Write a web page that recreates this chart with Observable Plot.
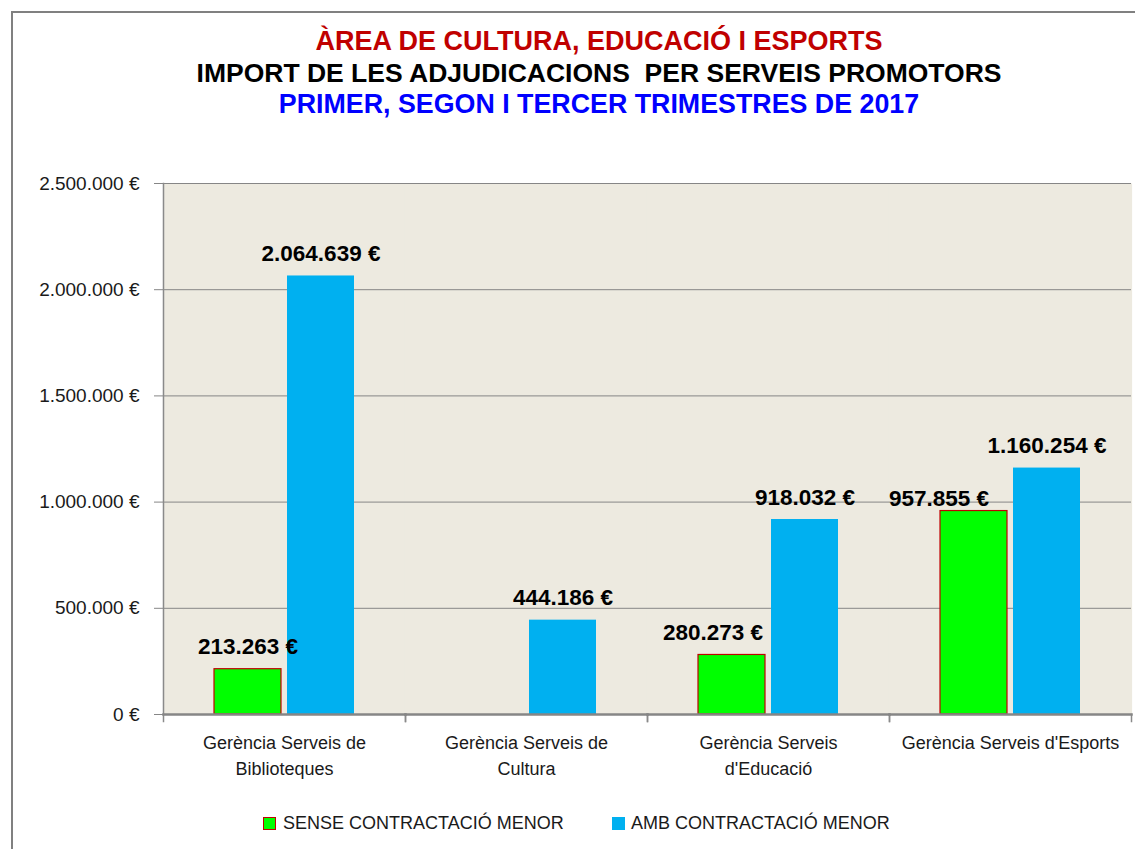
<!DOCTYPE html>
<html>
<head>
<meta charset="utf-8">
<script src="https://cdn.jsdelivr.net/npm/d3@7"></script>
<script src="https://cdn.jsdelivr.net/npm/@observablehq/plot@0.6"></script>
<style>
  body { margin:0; background:#fff; width:1135px; height:849px; overflow:hidden; position:relative; font-family:"Liberation Sans", Arial, sans-serif; }
  #border { position:absolute; left:11px; top:11px; width:1140px; height:860px; border-left:2px solid #808080; border-top:2px solid #808080; }
  .t { position:absolute; left:0; width:1198px; text-align:center; font-family:"Liberation Sans Narrow","Liberation Sans",sans-serif; font-weight:bold; font-size:27px; line-height:30px; white-space:nowrap; }
  #chart { position:absolute; left:0; top:150px; }
  #legend { position:absolute; top:811px; left:0; width:1135px; height:24px; font-size:18px; color:#1a1a1a; }
  .sw { position:absolute; top:6px; width:13px; height:13px; box-sizing:border-box; }
  .lt { position:absolute; top:0; line-height:24px; white-space:nowrap; }
</style>
</head>
<body>
<div id="border"></div>
<div class="t" style="top:26px;color:#C00000">ÀREA DE CULTURA, EDUCACIÓ I ESPORTS</div>
<div class="t" style="top:58px;color:#000;font-size:26.5px">IMPORT DE LES ADJUDICACIONS&nbsp; PER SERVEIS PROMOTORS</div>
<div class="t" style="top:89px;color:#0000FF;font-size:26.8px">PRIMER, SEGON I TERCER TRIMESTRES DE 2017</div>
<div id="chart"></div>
<div id="legend"></div>
<script>
const categories = ["Gerència Serveis de Biblioteques", "Gerència Serveis de Cultura", "Gerència Serveis d'Educació", "Gerència Serveis d'Esports"];
const categoryLabels = ["Gerència Serveis de\nBiblioteques", "Gerència Serveis de\nCultura", "Gerència Serveis\nd'Educació", "Gerència Serveis d'Esports"];
const series = ["SENSE CONTRACTACIÓ MENOR", "AMB CONTRACTACIÓ MENOR"];
const senseValues = [213263, null, 280273, 957855];
const ambValues = [2064639, 444186, 918032, 1160254];
const yTicks = [0, 500000, 1000000, 1500000, 2000000, 2500000];
const seriesColors = ["#00FF00", "#00B0F0"];

const data = [];
categories.forEach((c, i) => {
  data.push({cat: c, series: series[0], value: senseValues[i]});
  data.push({cat: c, series: series[1], value: ambValues[i]});
});
const shown = data.filter(d => d.value != null);
const fmt = v => d3.format(",")(v).replace(/,/g, ".") + " €";

const shiftedA = d => d.series === series[0] && d.cat === categories[2];
const shiftedB = d => d.series === series[0] && d.cat === categories[3];

const labelStyle = {fx: "cat", x: "series", y: "value", text: d => fmt(d.value), fontSize: 22.5, fontWeight: "bold", fill: "#000"};

const chart = Plot.plot({
  width: 1135,
  height: 650,
  marginTop: 33,
  marginBottom: 86,
  marginLeft: 163,
  marginRight: 4,
  style: {background: "transparent", fontFamily: "Liberation Sans, Arial, sans-serif"},
  fx: {domain: categories, padding: 0, label: null},
  x: {domain: series, paddingInner: 0.08, paddingOuter: 0.69, axis: null},
  y: {domain: [0, 2500000], label: null, axis: null},
  color: {domain: series, range: seriesColors},
  marks: [
    Plot.frame({fill: "#EDEAE0", stroke: null, insetLeft: -0.6, insetRight: -0.6}),
    Plot.gridY(yTicks, {stroke: "#868686", strokeOpacity: 1}),
    Plot.barY(shown.filter(d => d.series === series[0]), {fx: "cat", x: "series", y: "value", fill: "series", stroke: "#C00000", strokeWidth: 1.2}),
    Plot.barY(shown.filter(d => d.series === series[1]), {fx: "cat", x: "series", y: "value", fill: "series"}),
    Plot.frame({anchor: "left", facetAnchor: "left", stroke: "#8a8a8a", strokeWidth: 1.5}),
    Plot.frame({anchor: "left", insetTop: 531, insetBottom: -7, stroke: "#8a8a8a", strokeWidth: 1.5}),
    Plot.frame({anchor: "right", insetTop: 531, insetBottom: -7, stroke: "#8a8a8a", strokeWidth: 1.5}),
    Plot.frame({anchor: "bottom", stroke: "#868686", strokeWidth: 2.5}),
    Plot.axisY(yTicks, {tickSize: 9, tickPadding: 15, tickFormat: fmt, fontSize: 19, stroke: "#868686", fill: "#1a1a1a"}),
    Plot.axisFx({anchor: "bottom", tickSize: 0, tickPadding: 16, fontSize: 18, lineHeight: 1.45, fill: "#1a1a1a", tickFormat: c => categoryLabels[categories.indexOf(c)]}),
    Plot.text(shown.filter(d => !shiftedA(d) && !shiftedB(d)), {...labelStyle, dy: -22}),
    Plot.text(shown.filter(shiftedA), {...labelStyle, dy: -22, dx: -19}),
    Plot.text(shown.filter(shiftedB), {...labelStyle, dy: -12, dx: -35})
  ]
});
document.getElementById("chart").appendChild(chart);

const legend = document.getElementById("legend");
const legendPos = [{sw: 263, tx: 283}, {sw: 612, tx: 631}];
series.forEach((s, i) => {
  const sw = document.createElement("div");
  sw.className = "sw";
  sw.style.left = legendPos[i].sw + "px";
  sw.style.background = seriesColors[i];
  if (i === 0) sw.style.border = "1.5px solid #C00000";
  legend.appendChild(sw);
  const tx = document.createElement("div");
  tx.className = "lt";
  tx.style.left = legendPos[i].tx + "px";
  tx.textContent = s;
  legend.appendChild(tx);
});
</script>
</body>
</html>
